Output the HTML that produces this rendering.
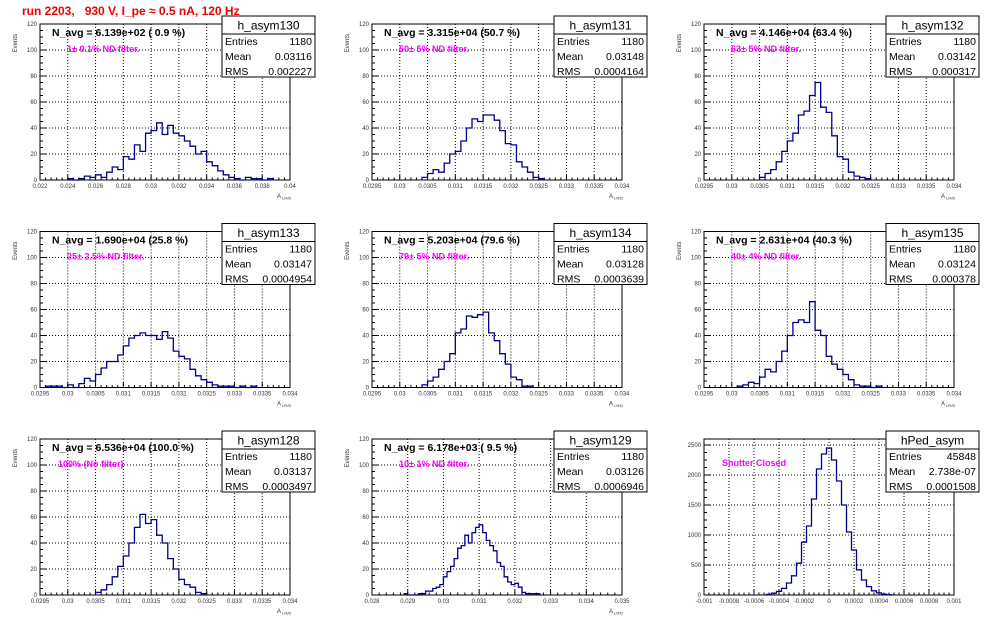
<!DOCTYPE html>
<html><head><meta charset="utf-8"><style>
html,body{margin:0;padding:0;background:#fff;}
svg{display:block;font-family:"Liberation Sans",Arial,sans-serif;}
</style></head><body>
<svg id="c" width="996" height="622" viewBox="0 0 996 622">
<text x="22" y="15" fill="#e00" font-size="12" font-weight="bold" xml:space="preserve">run 2203,   930 V, I_pe ≈ 0.5 nA, 120 Hz</text>
</svg>
<script>
// ---- data (displayed bin heights) ----
const names = ["h_asym130","h_asym131","h_asym132","h_asym133","h_asym134","h_asym135","h_asym128","h_asym129","hPed_asym"];
const navgLabels = ["N_avg = 6.139e+02 ( 0.9 %)","N_avg = 3.315e+04 (50.7 %)","N_avg = 4.146e+04 (63.4 %)","N_avg = 1.690e+04 (25.8 %)","N_avg = 5.203e+04 (79.6 %)","N_avg = 2.631e+04 (40.3 %)","N_avg = 6.536e+04 (100.0 %)","N_avg = 6.178e+03 ( 9.5 %)",""];
const filterLabels = ["1± 0.1% ND filter.","50± 5% ND filter.","63± 5% ND filter.","25± 2.5% ND filter.","79± 5% ND filter.","40± 4% ND filter.","100% (No filter)","10± 1% ND filter.","Shutter Closed"];
const entries = ["1180","1180","1180","1180","1180","1180","1180","1180","45848"];
const means = ["0.03116","0.03148","0.03142","0.03147","0.03128","0.03124","0.03137","0.03126","2.738e-07"];
const rmss = ["0.002227","0.0004164","0.000317","0.0004954","0.0003639","0.000378","0.0003497","0.0006946","0.0001508"];
const xMins = [0.022,0.0295,0.0295,0.0295,0.0295,0.0295,0.0295,0.028,-0.001];
const xMaxs = [0.04,0.034,0.034,0.034,0.034,0.034,0.034,0.035,0.001];
const yMaxs = [120,120,120,120,120,120,120,120,2600];
const xTickLists = [
 ["0.022","0.024","0.026","0.028","0.03","0.032","0.034","0.036","0.038","0.04"],
 ["0.0295","0.03","0.0305","0.031","0.0315","0.032","0.0325","0.033","0.0335","0.034"],
 ["0.0295","0.03","0.0305","0.031","0.0315","0.032","0.0325","0.033","0.0335","0.034"],
 ["0.0295","0.03","0.0305","0.031","0.0315","0.032","0.0325","0.033","0.0335","0.034"],
 ["0.0295","0.03","0.0305","0.031","0.0315","0.032","0.0325","0.033","0.0335","0.034"],
 ["0.0295","0.03","0.0305","0.031","0.0315","0.032","0.0325","0.033","0.0335","0.034"],
 ["0.0295","0.03","0.0305","0.031","0.0315","0.032","0.0325","0.033","0.0335","0.034"],
 ["0.028","0.029","0.03","0.031","0.032","0.033","0.034","0.035"],
 ["-0.001","-0.0008","-0.0006","-0.0004","-0.0002","0","0.0002","0.0004","0.0006","0.0008","0.001"]];
const yTickList = ["0","20","40","60","80","100","120"];
const yTickListPed = ["0","500","1000","1500","2000","2500"];
const binStarts = [0.024,0.0304,0.0305,0.0296,0.0304,0.0301,0.0305,0.0289,-0.0005];
const binWidths = [0.0004,0.0001,0.0001,0.0001,0.0001,0.0001,0.0001,0.0001,0.00004];
const h130 = [1,0,1,3,2,4,2,6,10,8,18,16,27,22,36,38,44,35,42,36,34,30,26,20,22,14,11,7,4,2,1,0,2,1,1,0,1];
const h131 = [2,5,8,6,13,20,22,30,40,47,45,50,50,46,38,28,27,14,10,6,2,1];
const h132 = [2,5,8,14,22,30,36,50,53,65,75,56,52,34,18,16,6,3,2,1];
const h133 = [1,1,1,0,2,0,3,7,5,10,15,20,20,25,32,38,40,42,40,40,37,43,38,28,24,22,14,9,6,4,2,1,1,1,0,1,0,1];
const h134 = [2,5,8,14,20,26,42,45,55,54,56,58,42,36,26,18,8,6,1,1];
const h135 = [1,2,4,3,8,14,12,20,28,40,50,52,50,66,44,40,24,18,14,10,6,2,1,1,0,1];
const h128 = [2,4,8,14,22,30,40,52,62,55,58,46,40,28,20,12,8,6,2,1];
const h129 = [1,0,0,0,1,1,3,3,5,6,8,14,18,22,28,36,38,46,40,48,52,54,48,42,38,34,25,22,14,10,8,9,6,2,1,1,1,1];
const hPed = [10,30,60,110,200,320,530,880,1150,1600,2100,2350,2450,2250,1900,1500,1050,750,420,250,140,70,35,15,5];
const series = [h130,h131,h132,h133,h134,h135,h128,h129,hPed];

const NS="http://www.w3.org/2000/svg";
const svg=document.getElementById('c');
function mk(tag,attrs,parent){const e=document.createElementNS(NS,tag);for(const k in attrs)e.setAttribute(k,attrs[k]);(parent||svg).appendChild(e);return e;}

for(let p=0;p<9;p++){
  const ox=(p%3)*332, oy=Math.floor(p/3)*207.5;
  const L=ox+40,R=ox+290,T=oy+24,B=oy+180;
  const g=mk('g',{});
  
  
  const xs=v=>L+(v-xMins[p])/(xMaxs[p]-xMins[p])*(R-L);
  const ys=v=>B-v/yMaxs[p]*(B-T);
  // frame
  const fr=mk('rect',{x:L,y:T,width:R-L,height:B-T,fill:'none',stroke:'#000','stroke-width':1},g);
  
  
  // x ticks + grid
  const xt=xTickLists[p];
  xt.forEach((lab,i)=>{
    const v=parseFloat(lab);const x=xs(v);
    if(i>0&&i<xt.length-1){const gl=mk('line',{x1:x,y1:T,x2:x,y2:B,stroke:'#000','stroke-dasharray':'1,2','stroke-width':1},g);
      }
    mk('line',{x1:x,y1:B,x2:x,y2:B-5,stroke:'#000'},g);
    const t=mk('text',{x:x,y:B+8,'font-size':6,'text-anchor':'middle',fill:'#333'},g);
    t.textContent=lab;
    
    
    if(i<xt.length-1){const nv=parseFloat(xt[i+1]);for(let k=1;k<5;k++){const mx=xs(v+(nv-v)*k/5);mk('line',{x1:mx,y1:B,x2:mx,y2:B-2.5,stroke:'#000'},g);}}
  });
  // y ticks + grid
  const yt=p===8?yTickListPed:yTickList;
  yt.forEach((lab,i)=>{
    const v=parseFloat(lab);const y=ys(v);
    if(i>0&&y>T+1){const gl=mk('line',{x1:L,y1:y,x2:R,y2:y,stroke:'#000','stroke-dasharray':'1,2'},g);
      }
    mk('line',{x1:L,y1:y,x2:L+6,y2:y,stroke:'#000'},g);
    const t=mk('text',{x:L-3,y:y+2,'font-size':6,'text-anchor':'end',fill:'#333'},g);
    t.textContent=lab;
    
    
    if(i<yt.length-1){const step=parseFloat(yt[1])-parseFloat(yt[0]);for(let k=1;k<4;k++){const my=ys(v+step*k/4);if(my>T)mk('line',{x1:L,y1:my,x2:L+3,y2:my,stroke:'#000'},g);}}
  });
  // histogram
  const d=series[p];let path='M'+xs(binStarts[p])+','+B;
  d.forEach((c,i)=>{const x0=xs(binStarts[p]+i*binWidths[p]),x1=xs(binStarts[p]+(i+1)*binWidths[p]);path+=' L'+x0+','+ys(c)+' L'+x1+','+ys(c);});
  path+=' L'+xs(binStarts[p]+d.length*binWidths[p])+','+B;
  const h=mk('path',{d:path,fill:'none',stroke:'#00008b','stroke-width':1.3},g);
  
  
  // axis titles
  if(p<8){
    const ev=mk('text',{x:0,y:0,'font-size':6,fill:'#333',transform:'translate('+(ox+17)+','+(T+10)+') rotate(-90)','text-anchor':'end'},g);
    ev.textContent='Events';
    
    
    const ax=mk('text',{x:R-13,y:B+18,'font-size':6,fill:'#333'},g);
    ax.textContent='A';
    
    
    const sub=mk('tspan',{'font-size':4,dy:1.5},ax);sub.textContent=' LR/D';
  }
  // labels
  if(navgLabels[p]){const n=mk('text',{x:ox+52,y:oy+36,'font-size':10.5,'font-weight':'bold',fill:'#000'},g);
    n.textContent=navgLabels[p];}
  const fl=mk('text',{x:ox+(p===8?58:(p===6?58:67)),y:oy+(p===8?51:52),'font-size':9,'font-weight':'bold',fill:'#f0f'},g);
  fl.textContent=filterLabels[p];
  // stats box
  const sx=ox+222,sy=oy+16,sw=93,sh=61;
  const sb=mk('g',{},g);
  
  
  mk('rect',{x:sx,y:sy,width:sw,height:sh,fill:'#fff',stroke:'#000','stroke-width':1},sb);
  mk('line',{x1:sx,y1:sy+18,x2:sx+sw,y2:sy+18,stroke:'#000'},sb);
  const tt=mk('text',{x:sx+sw/2,y:sy+13.5,'font-size':12,'text-anchor':'middle'},sb);tt.textContent=names[p];
  const rows=[['Entries',entries[p]],['Mean',means[p]],['RMS',rmss[p]]];
  rows.forEach((r,i)=>{const yb=sy+29+i*15;
    const a=mk('text',{x:sx+3,y:yb,'font-size':10.5},sb);a.textContent=r[0];
    const b=mk('text',{x:sx+sw-3,y:yb,'font-size':10.5,'text-anchor':'end'},sb);b.textContent=r[1];});
}
</script>
</body></html>
